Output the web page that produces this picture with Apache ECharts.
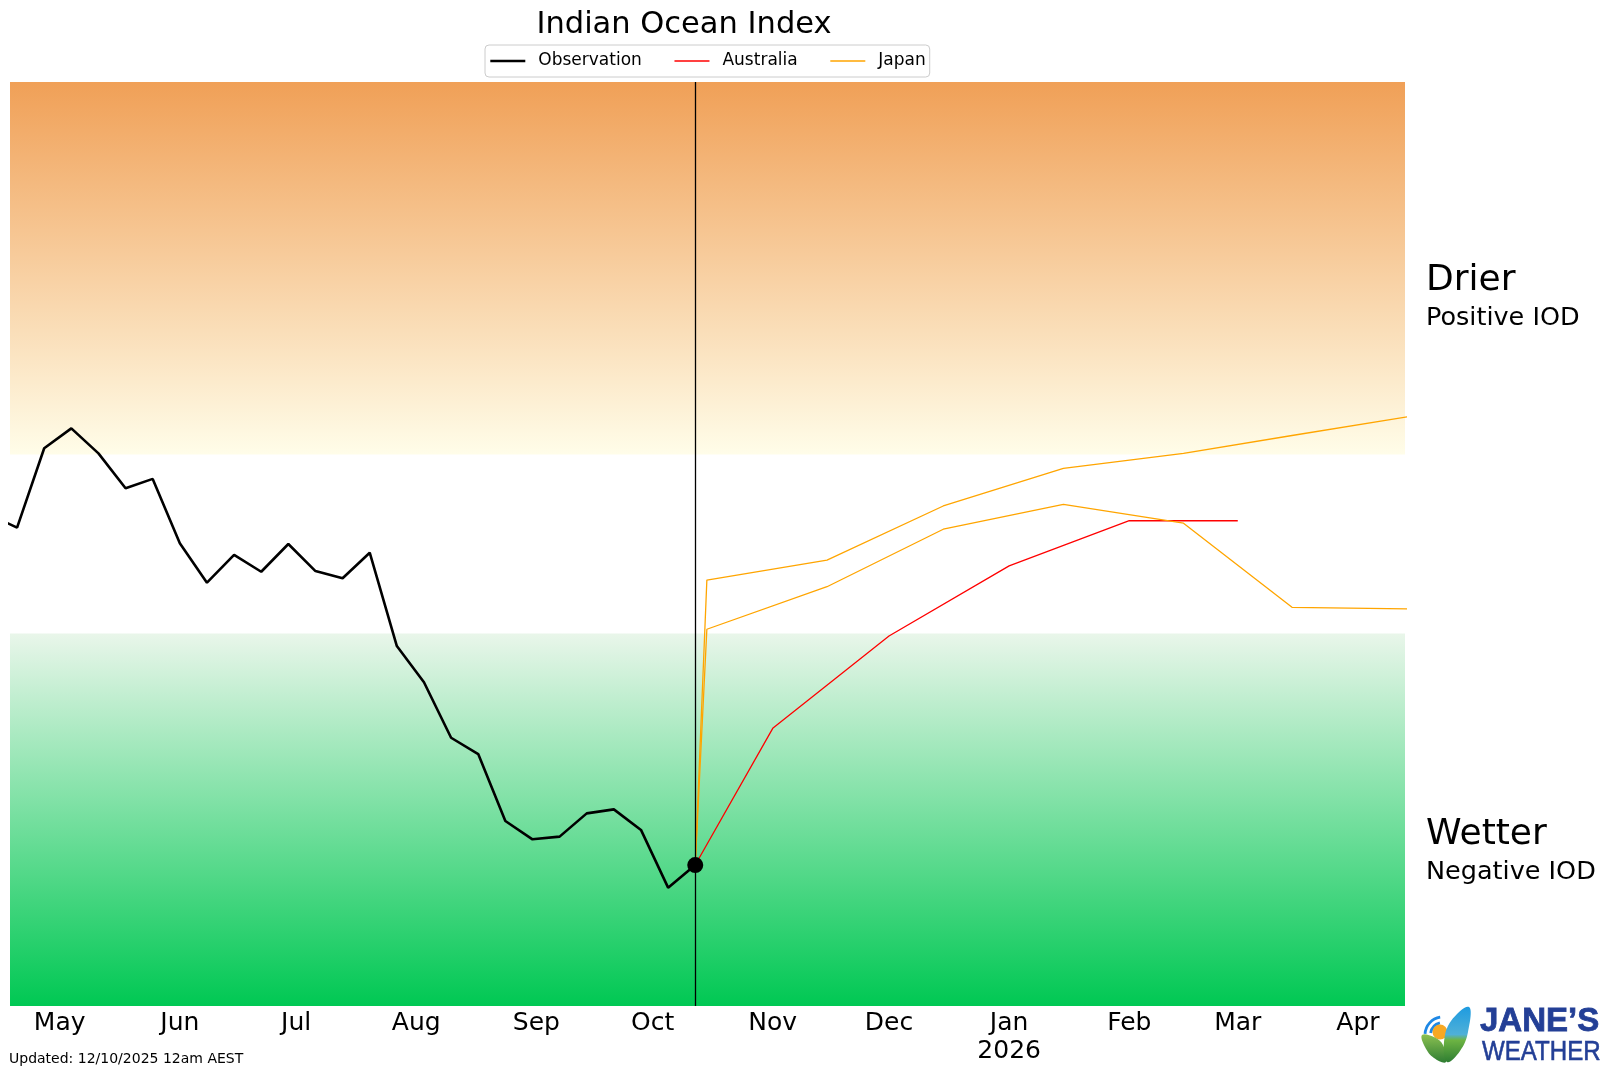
<!DOCTYPE html>
<html>
<head>
<meta charset="utf-8">
<script src="https://cdn.jsdelivr.net/npm/echarts@6/dist/echarts.min.js"></script>
<style>html,body{margin:0;padding:0;background:#fff}#chart{width:1613px;height:1076px}</style>
</head>
<body>
<div id="chart"></div>
<script>
// ---------- DATA ----------
const obsDates = ['2025-04-13','2025-04-20','2025-04-27','2025-05-04','2025-05-11','2025-05-18','2025-05-25',
  '2025-06-01','2025-06-08','2025-06-15','2025-06-22','2025-06-29','2025-07-06','2025-07-13','2025-07-20',
  '2025-07-27','2025-08-03','2025-08-10','2025-08-17','2025-08-24','2025-08-31','2025-09-07','2025-09-14',
  '2025-09-21','2025-09-28','2025-10-05','2025-10-12'];
const obsValues = [0.130, 0.073, 0.428, 0.517, 0.405, 0.249, 0.291,
  0.003, -0.173, -0.049, -0.124, 0.000, -0.121, -0.153, -0.039,
  -0.456, -0.618, -0.866, -0.939, -1.238, -1.320, -1.308, -1.204,
  -1.186, -1.278, -1.536, -1.435];

const ausDates = ['2025-10-12','2025-11-01','2025-12-01','2026-01-01','2026-02-01','2026-03-01'];
const ausValues = [-1.435, -0.824, -0.411, -0.098, 0.104, 0.104];

const japanDates = ['2025-10-12','2025-10-15','2025-11-15','2025-12-15','2026-01-15','2026-02-15','2026-03-15','2026-04-15'];
const japanMember1 = [-1.435, -0.161, -0.072, 0.170, 0.338, 0.405, 0.485, 0.572];
const japanMember2 = [-1.435, -0.381, -0.191, 0.066, 0.177, 0.093, -0.283, -0.290];

const tickDates = ['2025-05-01','2025-06-01','2025-07-01','2025-08-01','2025-09-01','2025-10-01',
  '2025-11-01','2025-12-01','2026-01-01','2026-02-01','2026-03-01','2026-04-01'];
const tickLabels = ['May','Jun','Jul','Aug','Sep','Oct','Nov','Dec','Jan\n2026','Feb','Mar','Apr'];

const positiveThreshold = 0.4;
const negativeThreshold = -0.4;

// ---------- HELPERS ----------
const ts = s => { const p = s.split('-').map(Number); return Date.UTC(p[0], p[1] - 1, p[2]); };
const zip = (d, v) => d.map((x, i) => [ts(x), v[i]]);
const tickTs = tickDates.map(ts);

const xMin = Date.UTC(2025, 3, 18, 4, 12);
const xMax = Date.UTC(2026, 3, 13, 3, 42);
const yMin = -2.065, yMax = 2.065;
const FONT = '"DejaVu Sans", sans-serif';

const chart = echarts.init(document.getElementById('chart'), null, {renderer: 'canvas'});

const orangeGrad = new echarts.graphic.LinearGradient(0, 0, 0, 1, [
  {offset: 0, color: '#F0A057'}, {offset: 1, color: '#FFFDE9'}]);
const greenGrad = new echarts.graphic.LinearGradient(0, 0, 0, 1, [
  {offset: 0, color: '#E9F6EA'}, {offset: 1, color: '#00C853'}]);

const option = {
  animation: false,
  backgroundColor: '#ffffff',
  title: {
    text: 'Indian Ocean Index',
    left: 684, top: 10, textAlign: 'center', padding: 0,
    textStyle: {fontSize: 30.5, fontWeight: 'normal', fontFamily: FONT, color: '#000', lineHeight: 31}
  },
  legend: {
    data: [
      {name: 'Observation', lineStyle: {width: 2.6, color: '#000'}},
      {name: 'Australia', lineStyle: {width: 1.3, color: '#FF0000'}},
      {name: 'Japan', lineStyle: {width: 1.3, color: '#FFA500'}}
    ],
    left: 485, top: 45, orient: 'horizontal',
    itemWidth: 35, itemHeight: 14, itemGap: 32,
    padding: [6, 4, 6, 4],
    borderColor: '#cccccc', borderWidth: 1, borderRadius: 4,
    backgroundColor: '#ffffff',
    itemStyle: {color: 'rgba(0,0,0,0)', borderColor: 'rgba(0,0,0,0)', borderWidth: 0},
    textStyle: {fontSize: 17, fontFamily: FONT, color: '#000', lineHeight: 20, padding: [0, 0, 0, 8]}
  },
  grid: {left: 10, right: 208, top: 82, bottom: 70, containLabel: false, outerBoundsMode: 'none'},
  xAxis: {
    type: 'value', min: xMin, max: xMax,
    axisLine: {show: false}, axisTick: {show: false}, splitLine: {show: false},
    axisLabel: {
      customValues: tickTs,
      formatter: v => { const i = tickTs.indexOf(v); return i >= 0 ? tickLabels[i] : ''; },
      fontSize: 25, fontFamily: FONT, color: '#000', lineHeight: 28, margin: 3, hideOverlap: false
    }
  },
  yAxis: {
    type: 'value', min: yMin, max: yMax, show: false,
    splitLine: {show: false}
  },
  series: [
    {
      name: 'bands', type: 'line', data: [], z: 0, silent: true,
      markArea: {
        silent: true,
        data: [
          [{yAxis: positiveThreshold, itemStyle: {color: orangeGrad}}, {yAxis: yMax}],
          [{yAxis: yMin, itemStyle: {color: greenGrad}}, {yAxis: negativeThreshold}]
        ]
      }
    },
    {
      name: 'Observation', type: 'line', data: zip(obsDates, obsValues), z: 3,
      symbol: 'none', color: '#000', lineStyle: {color: '#000', width: 2.6},
      markLine: {
        silent: true, symbol: ['none', 'none'], label: {show: false},
        lineStyle: {color: '#000', width: 1.3, type: 'solid'},
        data: [{xAxis: ts(obsDates[obsDates.length - 1])}]
      }
    },
    {
      name: 'Australia', type: 'line', data: zip(ausDates, ausValues), z: 4,
      symbol: 'none', color: '#FF0000', lineStyle: {color: '#FF0000', width: 1.3}
    },
    {
      name: 'Japan', type: 'line', data: zip(japanDates, japanMember1), z: 4,
      symbol: 'none', color: '#FFA500', lineStyle: {color: '#FFA500', width: 1.3}
    },
    {
      name: 'Japan', type: 'line', data: zip(japanDates, japanMember2), z: 4,
      symbol: 'none', color: '#FFA500', lineStyle: {color: '#FFA500', width: 1.3}
    },
    {
      name: 'latest', type: 'scatter', z: 6, symbol: 'circle', symbolSize: 16,
      data: [[ts(obsDates[obsDates.length - 1]), obsValues[obsValues.length - 1]]],
      itemStyle: {color: '#000', opacity: 1}
    }
  ],
  graphic: [
    {type: 'text', style: {text: 'Drier', x: 1426, y: 281, font: '36px ' + FONT, fill: '#000', align: 'left', verticalAlign: 'middle'}},
    {type: 'text', style: {text: 'Positive IOD', x: 1426, y: 318.5, font: '25.5px ' + FONT, fill: '#000', align: 'left', verticalAlign: 'middle'}},
    {type: 'text', style: {text: 'Wetter', x: 1426, y: 835, font: '36px ' + FONT, fill: '#000', align: 'left', verticalAlign: 'middle'}},
    {type: 'text', style: {text: 'Negative IOD', x: 1426, y: 872.5, font: '25.5px ' + FONT, fill: '#000', align: 'left', verticalAlign: 'middle'}},
    {type: 'text', style: {text: 'Updated: 12/10/2025 12am AEST', x: 9, y: 1059, font: '14px ' + FONT, fill: '#000', align: 'left', verticalAlign: 'middle'}},
    // logo icon
    {type: 'arc', shape: {cx: 1443, cy: 1035, r: 18, startAngle: Math.PI * 1.02, endAngle: Math.PI * 1.45},
      style: {stroke: '#1E88E5', lineWidth: 2.8, fill: null}},
    {type: 'arc', shape: {cx: 1443, cy: 1035, r: 12.5, startAngle: Math.PI * 1.05, endAngle: Math.PI * 1.42},
      style: {stroke: '#1E88E5', lineWidth: 2.8, fill: null}},
    {type: 'circle', shape: {cx: 1440, cy: 1032, r: 7.5}, style: {fill: '#F7A823'}},
    {type: 'polygon', shape: {points: [[1446, 1062], [1434, 1058], [1425, 1047], [1422, 1035], [1434, 1037], [1443, 1045]], smooth: 0.4},
      style: {fill: new echarts.graphic.LinearGradient(0, 0, 0, 1, [{offset: 0, color: '#8CC152'}, {offset: 1, color: '#2E7D32'}])}},
    {type: 'polygon', shape: {points: [[1447, 1062], [1444, 1042], [1451, 1021], [1469, 1007], [1468, 1032], [1460, 1051]], smooth: 0.4},
      style: {fill: new echarts.graphic.LinearGradient(0, 0, 0, 1, [{offset: 0, color: '#1E9BE0'}, {offset: 0.5, color: '#4FB0D8'}, {offset: 0.6, color: '#6DB443'}, {offset: 1, color: '#2E7D32'}])}},
    {type: 'text', style: {text: 'JANE\u2019S', x: 1480, y: 1021.5, font: 'bold 33px "Liberation Sans", Arial, sans-serif', fill: '#233F96', stroke: '#233F96', lineWidth: 0.8, align: 'left', verticalAlign: 'middle'}},
    {type: 'text', x: 1482, y: 1052.5, scaleX: 0.86, style: {text: 'WEATHER', x: 0, y: 0, font: '28px "Liberation Sans", Arial, sans-serif', fill: '#233F96', stroke: '#233F96', lineWidth: 0.6, align: 'left', verticalAlign: 'middle'}}
  ]
};
chart.setOption(option);
</script>
</body>
</html>
